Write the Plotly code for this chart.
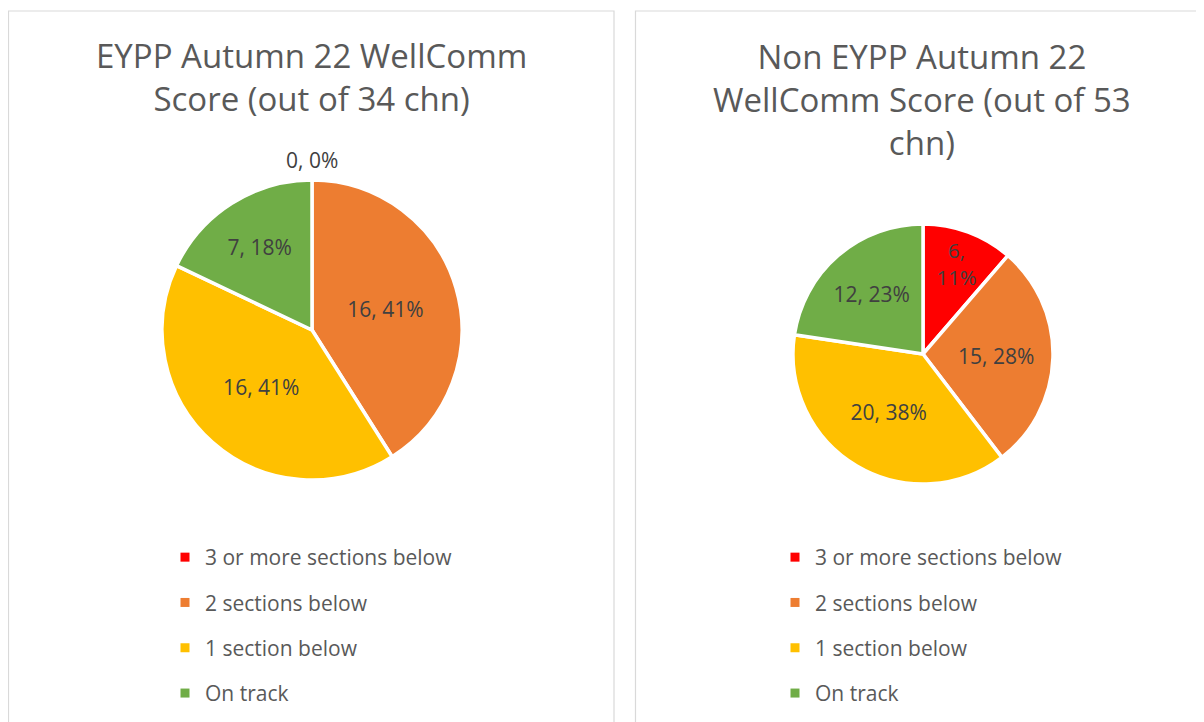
import plotly.graph_objects as go

W, H = 1204, 722
OFF = 8  # default page body margin in the browser

categories = ["3 or more sections below", "2 sections below", "1 section below", "On track"]
colors = ["#FF0000", "#ED7D31", "#FFC000", "#70AD47"]

eypp_values = [0, 16, 16, 7]
non_eypp_values = [6, 15, 20, 12]

eypp_title = "EYPP Autumn 22 WellComm<br>Score (out of 34 chn)"
non_eypp_title = "Non EYPP Autumn 22<br>WellComm Score (out of 53<br>chn)"

FONT = "Open Sans"
TITLE_C = "#595959"
LABEL_C = "#404040"

FW, FH = W - OFF, H - OFF


def px_x(p):
    return (p - OFF) / FW


def px_y(p):
    return 1 - (p - OFF) / FH


def labels_for(values, wrap_small=False):
    total = sum(values)
    out = []
    for v in values:
        pct = round(100 * v / total) if total else 0
        if wrap_small and 0 < v / total < 0.15:
            out.append(f"{v},<br>{pct}%")
        else:
            out.append(f"{v}, {pct}%")
    return out


fig = go.Figure()

eypp_text = labels_for(eypp_values)
non_text = labels_for(non_eypp_values, wrap_small=True)

# Left pie
fig.add_trace(go.Pie(
    labels=categories, values=eypp_values,
    text=[t if v > 0 else "" for t, v in zip(eypp_text, eypp_values)],
    textinfo="text", textposition="inside", insidetextorientation="horizontal",
    textfont=dict(family=FONT, size=21, color=LABEL_C),
    marker=dict(colors=colors, line=dict(color="white", width=3.5)),
    sort=False, direction="clockwise", rotation=0,
    domain=dict(x=[px_x(162), px_x(462)], y=[px_y(480), px_y(180)]),
    showlegend=False, hoverinfo="label+value+percent",
))

# Right pie
fig.add_trace(go.Pie(
    labels=categories, values=non_eypp_values,
    text=non_text,
    textinfo="text", textposition="inside", insidetextorientation="horizontal",
    textfont=dict(family=FONT, size=21, color=LABEL_C),
    marker=dict(colors=colors, line=dict(color="white", width=3.5)),
    sort=False, direction="clockwise", rotation=0,
    domain=dict(x=[px_x(793), px_x(1053)], y=[px_y(484), px_y(224)]),
    showlegend=False, hoverinfo="label+value+percent",
))

annotations = []
# Zero-value label for left pie (outside, at top)
for t, v in zip(eypp_text, eypp_values):
    if v == 0:
        annotations.append(dict(x=px_x(312), y=px_y(160), xref="paper", yref="paper",
                                text=t, showarrow=False, xanchor="center", yanchor="middle",
                                font=dict(family=FONT, size=21, color=LABEL_C)))

# Legends via marker-only traces
for i, (cat, col) in enumerate(zip(categories, colors)):
    for lg in ["legend", "legend2"]:
        fig.add_trace(go.Scatter(
            x=[None], y=[None], mode="markers", name=cat,
            marker=dict(symbol="square", size=9, color=col),
            legend=lg, legendgroup=f"{lg}-{i}", showlegend=True,
            hoverinfo="skip",
        ))

legend_common = dict(
    font=dict(family=FONT, size=21, color=TITLE_C),
    bgcolor="rgba(0,0,0,0)", orientation="v",
    traceorder="grouped", tracegroupgap=15,
    xanchor="left", yanchor="top", itemclick=False, itemdoubleclick=False,
)

annotations += [
    dict(x=px_x(311), y=px_y(77), xref="paper", yref="paper",
         text=eypp_title, showarrow=False, xanchor="center", yanchor="middle",
         font=dict(family=FONT, size=33, color=TITLE_C)),
    dict(x=px_x(922), y=px_y(100), xref="paper", yref="paper",
         text=non_eypp_title, showarrow=False, xanchor="center", yanchor="middle",
         font=dict(family=FONT, size=33, color=TITLE_C)),
]

fig.update_layout(
    width=FW, height=FH,
    margin=dict(l=0, r=0, t=0, b=0),
    paper_bgcolor="white", plot_bgcolor="white",
    xaxis=dict(visible=False, domain=[0, 0.001]),
    yaxis=dict(visible=False, domain=[0, 0.001]),
    legend=dict(x=px_x(165), y=px_y(537), **legend_common),
    legend2=dict(x=px_x(775), y=px_y(537), **legend_common),
    shapes=[
        dict(type="rect", xref="paper", yref="paper",
             x0=px_x(8.5), x1=px_x(614), y0=px_y(740), y1=px_y(11),
             line=dict(color="#D9D9D9", width=1.2)),
        dict(type="rect", xref="paper", yref="paper",
             x0=px_x(635.5), x1=px_x(1220), y0=px_y(740), y1=px_y(11),
             line=dict(color="#D9D9D9", width=1.2)),
    ],
    annotations=annotations,
)

fig.write_html("out.html")
